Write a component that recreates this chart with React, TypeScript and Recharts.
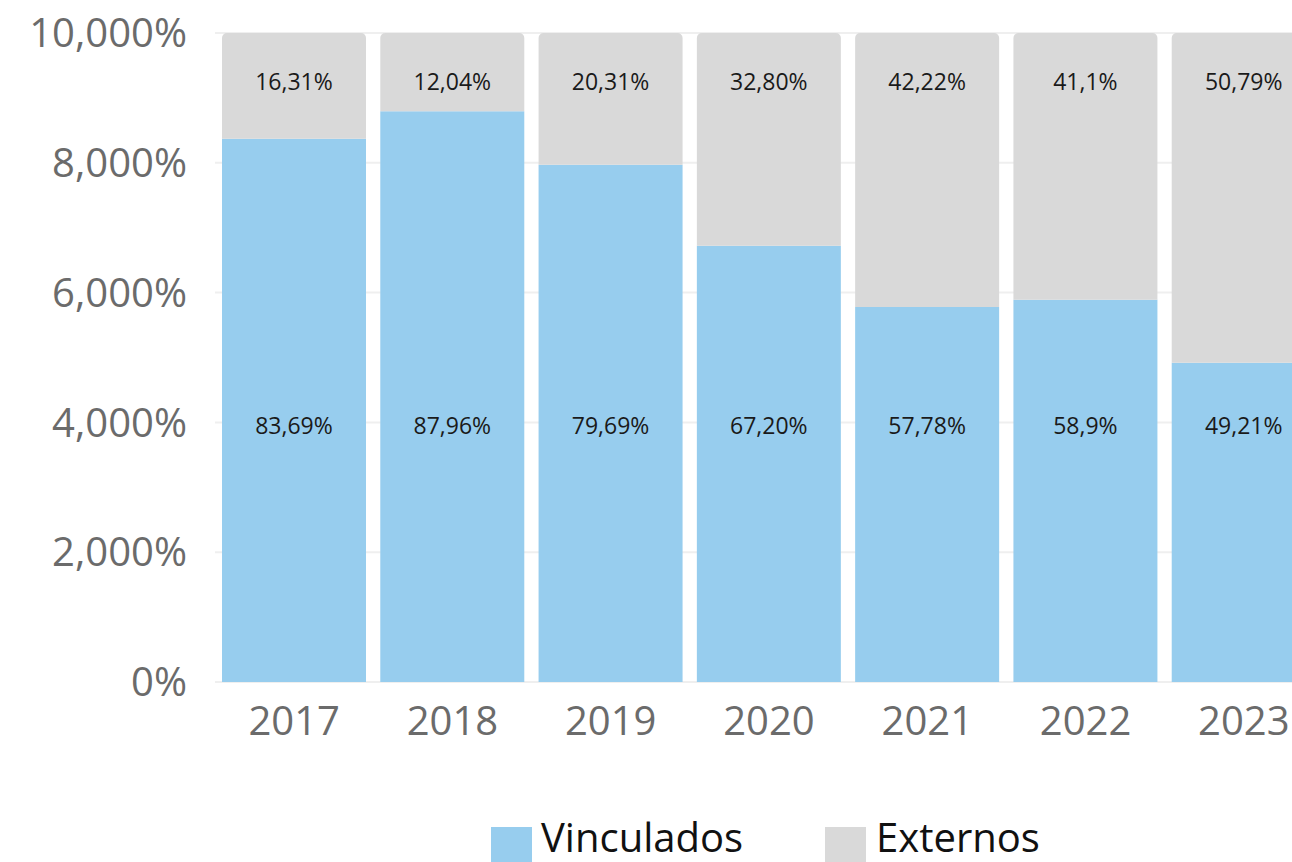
import React from "react";
import { BarChart, Bar, XAxis, YAxis, CartesianGrid, Legend, LabelList } from "recharts";

const years = ["2017", "2018", "2019", "2020", "2021", "2022", "2023"];
const vinculados = [83.69, 87.96, 79.69, 67.2, 57.78, 58.9, 49.21];
const externos = [16.31, 12.04, 20.31, 32.8, 42.22, 41.1, 50.79];
const vinculadosLabels = ["83,69%", "87,96%", "79,69%", "67,20%", "57,78%", "58,9%", "49,21%"];
const externosLabels = ["16,31%", "12,04%", "20,31%", "32,80%", "42,22%", "41,1%", "50,79%"];
const yTicks = [0, 20, 40, 60, 80, 100];
const yTickLabels = ["0%", "2,000%", "4,000%", "6,000%", "8,000%", "10,000%"];
const seriesNames = ["Vinculados", "Externos"];
const colors = ["#97cdee", "#d9d9d9"];

const data = years.map((y, i) => ({
  year: y,
  v: vinculados[i],
  e: externos[i],
  vl: vinculadosLabels[i],
  el: externosLabels[i],
}));

const FONT = "'Open Sans', 'Noto Sans', sans-serif";

const renderLegend = () => (
  <div style={{ position: "relative", width: 700, height: 70, fontFamily: FONT }}>
    {seriesNames.map((name, i) => (
      <div key={name} style={{ position: "absolute", left: i === 0 ? 0 : 334, top: 0, display: "flex", alignItems: "flex-start" }}>
        <div style={{ width: 41, height: 41, marginTop: 18, background: colors[i] }} />
        <span style={{ marginLeft: i === 0 ? 9 : 10, fontSize: 40, color: "#111", lineHeight: "normal", whiteSpace: "nowrap" }}>{name}</span>
      </div>
    ))}
  </div>
);

export default function App() {
  return (
    <div style={{ position: "fixed", left: 0, top: 0, width: 1292, height: 862, overflow: "hidden", background: "#fff" }}>
      <div style={{ position: "absolute", left: 8, top: 8 }}>
        <BarChart
          width={1340}
          height={880}
          data={data}
          margin={{ top: 25, right: 25, left: 0, bottom: 146 }}
          style={{ fontFamily: FONT }}
        >
          <CartesianGrid vertical={false} stroke="#efefef" strokeWidth={2} />
          <XAxis
            dataKey="year"
            axisLine={false}
            tickLine={false}
            tickSize={0}
            tickMargin={25}
            height={60}
            tick={{ fontSize: 40, fill: "#6b6b6b", fontFamily: FONT }}
            interval={0}
          />
          <YAxis
            width={207}
            domain={[0, 100]}
            ticks={yTicks}
            axisLine={false}
            tickLine={false}
            tickSize={0}
            tickMargin={28}
            tick={{ fontSize: 40, fill: "#6b6b6b", fontFamily: FONT }}
            tickFormatter={(v: number) => yTickLabels[yTicks.indexOf(v)] ?? ""}
          />
          <Legend
            layout="vertical"
            align="center"
            verticalAlign="middle"
            content={renderLegend}
            wrapperStyle={{ left: 483, top: 801, width: 700, height: 70 }}
          />
          <Bar dataKey="v" name={seriesNames[0]} stackId="a" fill={colors[0]} barSize={144} isAnimationActive={false}>
            <LabelList dataKey="vl" position="insideBottom" offset={248} fill="#1a1a1a" fontSize={23} fontFamily={FONT} />
          </Bar>
          <Bar dataKey="e" name={seriesNames[1]} stackId="a" fill={colors[1]} barSize={144} radius={[5, 5, 0, 0]} isAnimationActive={false}>
            <LabelList dataKey="el" position="insideTop" offset={41} fill="#1a1a1a" fontSize={23} fontFamily={FONT} />
          </Bar>
        </BarChart>
      </div>
    </div>
  );
}
